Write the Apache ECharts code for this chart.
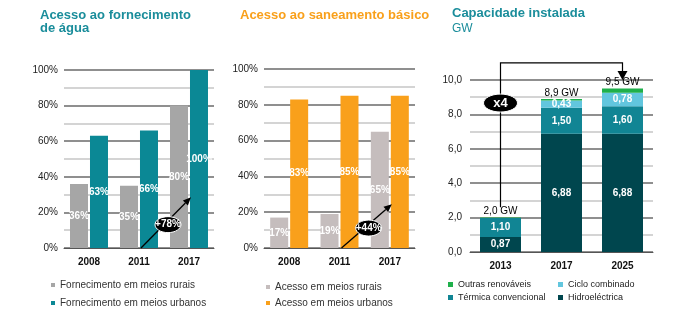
<!DOCTYPE html>
<html>
<head>
<meta charset="utf-8">
<script src="https://cdn.jsdelivr.net/npm/echarts@6/dist/echarts.min.js"></script>
<style>
  html, body { margin: 0; padding: 0; background: #fff; }
  #c { width: 698px; height: 321px; }
</style>
</head>
<body>
<div id="c"></div>
<script>
// Access to water supply (%)
const years = ['2008', '2011', '2017'];
const waterRural = [36, 35, 80];
const waterUrban = [63, 66, 100];
// Access to basic sanitation (%)
const sanRural = [17, 19, 65];
const sanUrban = [83, 85, 85];
// Installed capacity (GW), stacked from the bottom
const capYears = ['2013', '2017', '2025'];
const hidro = [0.87, 6.88, 6.88];
const termica = [1.10, 1.50, 1.60];
const ciclo = [0, 0.43, 0.78];
const outras = [0.03, 0.09, 0.24];
// Callout texts
const growthLabels = ['+78%', '+44%'];
const capMultiple = 'x4';

const FONT = '"Liberation Sans", Arial, sans-serif';
const TEAL = '#0b8895';
const TITLE_TEAL = '#1a8d9b';
const ORANGE = '#f9a01b';

const comma = (v, d) => v.toFixed(d).replace('.', ',');
const sum = i => hidro[i] + termica[i] + ciclo[i] + outras[i];

function xAxisFor(gi, data) {
  return {
    type: 'category', gridIndex: gi, data: data,
    axisLine: { lineStyle: { color: '#555', width: 1 } },
    axisTick: { length: 4, lineStyle: { color: '#555' } },
    axisLabel: { fontFamily: FONT, fontSize: 10, fontWeight: 'bold', color: '#111', margin: 9 }
  };
}
// Major lines dark, halfway lines light
const majorLines = { show: true, lineStyle: { color: '#6a6a6a', width: 1.5 } };
const minorLines = { show: true, lineStyle: { color: '#c6c6c6', width: 1.5 } };
function pctAxis(gi) {
  return {
    type: 'value', gridIndex: gi, min: 0, max: 100, interval: 20,
    axisLine: { show: false }, axisTick: { show: false },
    minorTick: { show: false, splitNumber: 2 },
    splitLine: majorLines, minorSplitLine: minorLines,
    axisLabel: { fontFamily: FONT, fontSize: 10, color: '#222', margin: 6, formatter: '{value}%' }
  };
}
const insideLabel = {
  show: true, position: 'inside', color: '#fff', fontFamily: FONT,
  fontSize: 10, fontWeight: 'bold', formatter: '{c}%'
};
function pctBar(gi, name, data, color) {
  return {
    type: 'bar', name: name, xAxisIndex: gi, yAxisIndex: gi, data: data,
    barWidth: 18, barGap: '11%', itemStyle: { color: color },
    label: insideLabel, emphasis: { disabled: true }
  };
}
function capBar(name, data, color, label) {
  return {
    type: 'bar', name: name, stack: 'cap', xAxisIndex: 2, yAxisIndex: 2,
    data: data, barWidth: 41, itemStyle: { color: color },
    label: label, emphasis: { disabled: true }
  };
}
const capLabel = {
  show: true, position: 'inside', color: '#fff', fontFamily: FONT,
  fontSize: 10, fontWeight: 'bold',
  formatter: p => (p.value > 0 ? comma(p.value, 2) : '')
};
const legendText = { fontFamily: FONT, fontSize: 10, color: '#333' };

const chart = echarts.init(document.getElementById('c'), null, { renderer: 'canvas' });
chart.setOption({
  animation: false,
  title: [
    { text: 'Acesso ao fornecimento\nde água', left: 35, top: 4,
      textStyle: { fontFamily: FONT, fontSize: 13, fontWeight: 'bold', color: TITLE_TEAL, lineHeight: 13 } },
    { text: 'Acesso ao saneamento básico', left: 235, top: 4,
      textStyle: { fontFamily: FONT, fontSize: 13, fontWeight: 'bold', color: ORANGE } },
    { text: 'Capacidade instalada', subtext: 'GW', left: 447, top: 2, itemGap: 3,
      textStyle: { fontFamily: FONT, fontSize: 13, fontWeight: 'bold', color: TITLE_TEAL },
      subtextStyle: { fontFamily: FONT, fontSize: 12, color: TITLE_TEAL } }
  ],
  grid: [
    { left: 64, top: 70, width: 150, height: 178 },
    { left: 264, top: 69, width: 151, height: 179 },
    { left: 470, top: 80, width: 183, height: 172 }
  ],
  xAxis: [xAxisFor(0, years), xAxisFor(1, years), xAxisFor(2, capYears)],
  yAxis: [
    pctAxis(0), pctAxis(1),
    {
      type: 'value', gridIndex: 2, min: 0, max: 10, interval: 2,
      axisLine: { show: false }, axisTick: { show: false },
      minorTick: { show: false, splitNumber: 2 },
      splitLine: majorLines, minorSplitLine: minorLines,
      axisLabel: { fontFamily: FONT, fontSize: 10, color: '#222', margin: 8, formatter: v => comma(v, 1) }
    }
  ],
  legend: [
    { data: ['Fornecimento em meios rurais', 'Fornecimento em meios urbanos'],
      orient: 'vertical', left: 46, top: 275, icon: 'rect', itemWidth: 4, itemHeight: 4,
      itemGap: 8, textStyle: legendText, selectedMode: false },
    { data: ['Acesso em meios rurais', 'Acesso em meios urbanos'],
      orient: 'vertical', left: 261, top: 277, icon: 'rect', itemWidth: 4, itemHeight: 4,
      itemGap: 6, textStyle: legendText, selectedMode: false },
    { data: ['Outras renováveis', 'Térmica convencional'],
      orient: 'vertical', left: 443, top: 275, icon: 'rect', itemWidth: 5, itemHeight: 5,
      itemGap: 4, textStyle: { fontFamily: FONT, fontSize: 9, color: '#222' }, selectedMode: false },
    { data: ['Ciclo combinado', 'Hidroeléctrica'],
      orient: 'vertical', left: 553, top: 275, icon: 'rect', itemWidth: 5, itemHeight: 5,
      itemGap: 4, textStyle: { fontFamily: FONT, fontSize: 9, color: '#222' }, selectedMode: false }
  ],
  series: [
    pctBar(0, 'Fornecimento em meios rurais', waterRural, '#a6a6a6'),
    pctBar(0, 'Fornecimento em meios urbanos', waterUrban, TEAL),
    pctBar(1, 'Acesso em meios rurais', sanRural, '#c5bdbd'),
    pctBar(1, 'Acesso em meios urbanos', sanUrban, ORANGE),
    capBar('Hidroeléctrica', hidro, '#00464e', capLabel),
    capBar('Térmica convencional', termica, '#118594', capLabel),
    capBar('Ciclo combinado', ciclo, '#62c6de', capLabel),
    capBar('Outras renováveis', outras, '#1fb04b', {
      show: true, position: 'top', distance: 1, color: '#000', fontFamily: FONT, fontSize: 10,
      formatter: p => comma(sum(p.dataIndex), 1) + ' GW'
    })
  ]
});

// Callouts placed through the axes' own scales
const px = (gi, pt) => chart.convertToPixel({ xAxisIndex: gi, yAxisIndex: gi }, pt);

function arrow(a, b) {
  const ang = Math.atan2(b[1] - a[1], b[0] - a[0]);
  const len = 8, half = 3.5;
  const base = [b[0] - len * Math.cos(ang), b[1] - len * Math.sin(ang)];
  const nx = -Math.sin(ang), ny = Math.cos(ang);
  return [
    { type: 'line', shape: { x1: a[0], y1: a[1], x2: base[0], y2: base[1] },
      style: { stroke: '#000', lineWidth: 1.3 }, z: 100 },
    { type: 'polygon', shape: { points: [b, [base[0] + nx * half, base[1] + ny * half], [base[0] - nx * half, base[1] - ny * half]] },
      style: { fill: '#000' }, z: 100 }
  ];
}
function badge(c, rx, ry, text, size) {
  return [
    { type: 'ellipse', shape: { cx: c[0], cy: c[1], rx: rx, ry: ry },
      style: { fill: '#000', stroke: '#fff', lineWidth: 1 }, z: 101 },
    { type: 'text', x: c[0], y: c[1], z: 102,
      style: { text: text, fill: '#fff', font: 'bold ' + size + 'px ' + FONT, align: 'center', verticalAlign: 'middle' } }
  ];
}
function growthCallout(gi, label, tipValue) {
  const a = px(gi, [1, 0]); a[0] += 2;
  const b = px(gi, [2, tipValue]); b[0] += 2;
  const mid = [(a[0] + b[0]) / 2 + 2, (a[1] + b[1]) / 2 + 2];
  return arrow(a, b).concat(badge(mid, 13, 8, label, 10));
}

const elements = []
  .concat(growthCallout(0, growthLabels[0], 28.5))
  .concat(growthCallout(1, growthLabels[1], 24.5));

// Bracket linking 2013 to 2025
const x0 = px(2, [0, 0])[0];
const x2 = px(2, [2, 0])[0];
const yStart = px(2, [0, 2.6])[1];
const yTop = px(2, [0, 11])[1];
const yTip = px(2, [0, 10.0])[1];
elements.push(
  { type: 'polyline', z: 100,
    shape: { points: [[x0, yStart], [x0, yTop], [x2, yTop], [x2, yTip - 8]] },
    style: { stroke: '#000', lineWidth: 1.2, fill: null } },
  { type: 'polygon', z: 100,
    shape: { points: [[x2 - 5, yTip - 9], [x2 + 5, yTip - 9], [x2, yTip]] },
    style: { fill: '#000' } }
);
elements.push.apply(elements, badge([x0, px(2, [0, 8.66])[1]], 17, 9, capMultiple, 13));

chart.setOption({ graphic: { elements: elements } });
</script>
</body>
</html>
